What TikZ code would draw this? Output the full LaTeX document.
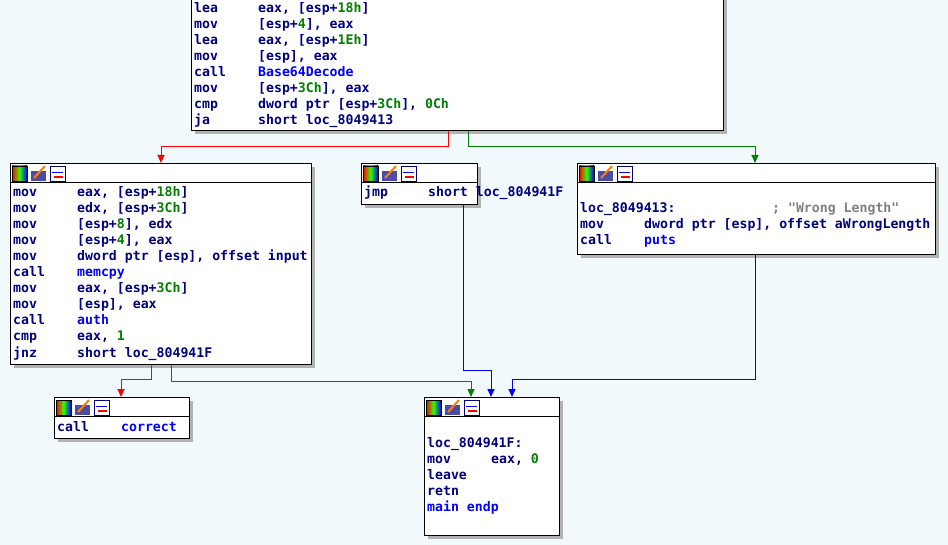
\documentclass[tikz,border=0pt]{standalone}
\usepackage{fontspec}
\setmonofont{DejaVu Sans Mono}
\usetikzlibrary{arrows.meta}
\definecolor{bg}{HTML}{F2F9FC}
\definecolor{navy}{HTML}{000080}
\definecolor{idb}{HTML}{0000FF}
\definecolor{numg}{HTML}{008000}
\definecolor{cmt}{HTML}{808080}
\newcommand\N[1]{\textcolor{numg}{#1}}
\newcommand\B[1]{\textcolor{idb}{#1}}
\tikzset{
 blk/.style={draw=black,fill=white,line width=0.8pt},
 shd/.style={fill=black!30},
 t/.style={anchor=base west,inner sep=0pt,yshift=-5pt,text=navy,font=\ttfamily\bfseries\fontsize{13.2}{15}\selectfont},
 e/.style={line width=1pt,-{Triangle[length=8pt,width=7pt]}},
}
\newcommand\icons[2]{%
 \shade[left color=red,right color=blue,middle color=green!80!yellow] (#1+2,#2+3) rectangle (#1+17,#2+18);
 \draw[black] (#1+2,#2+3) rectangle (#1+17,#2+18);
 \fill[navy!70] (#1+21,#2+8) rectangle (#1+36,#2+18);
 \draw[orange,line width=2pt] (#1+24,#2+15) -- (#1+35,#2+3);
 \fill[white] (#1+40,#2+3) rectangle (#1+55,#2+18);
 \draw[navy] (#1+40,#2+3) rectangle (#1+55,#2+18);
 \draw[red,line width=1.5pt] (#1+44,#2+14) -- (#1+53,#2+14);
 \draw[idb] (#1+42,#2+9) -- (#1+53,#2+9);
}
\begin{document}
\begin{tikzpicture}[x=1pt,y=-1pt]
\fill[bg] (0,0) rectangle (948,545);
\useasboundingbox (0,0) rectangle (948,545);
% shadows
\fill[shd] (195,-5) rectangle (727,134);
\fill[shd] (14,167) rectangle (315,368);
\fill[shd] (365,167) rectangle (481,208);
\fill[shd] (581,167) rectangle (939,258);
\fill[shd] (58,401) rectangle (193,442);
\fill[shd] (428,401) rectangle (563,539);
% blocks
\node[blk,minimum width=532,minimum height=136,anchor=north west,inner sep=0] (top) at (191,-6) {};
\node[blk,minimum width=301,minimum height=201,anchor=north west,inner sep=0] (L) at (10,163) {};
\node[blk,minimum width=116,minimum height=41,anchor=north west,inner sep=0] (M) at (361,163) {};
\node[blk,minimum width=358,minimum height=91,anchor=north west,inner sep=0] (R) at (577,163) {};
\node[blk,minimum width=135,minimum height=41,anchor=north west,inner sep=0] (C) at (54,397) {};
\node[blk,minimum width=135,minimum height=138,anchor=north west,inner sep=0] (E) at (424,397) {};
% headers
\foreach \x/\y/\w in {10/163/301,361/163/116,577/163/358,54/397/135,424/397/135}{
 \draw[black,line width=0.8pt] (\x,\y+19) -- (\x+\w,\y+19);
 \icons{\x}{\y}
}
% top text
\foreach \y/\m/\o in {8/lea/{eax, [esp+\N{18h}]},24/mov/{[esp+\N{4}], eax},40/lea/{eax, [esp+\N{1Eh}]},56/mov/{[esp], eax},72/call/{\B{Base64Decode}},88/mov/{[esp+\N{3Ch}], eax},104/cmp/{dword ptr [esp+\N{3Ch}], \N{0Ch}},120/ja/{short loc\_8049413}}{
 \node[t] at (194,\y) {\m}; \node[t] at (258,\y) {\o};}
% left text
\foreach \y/\m/\o in {192/mov/{eax, [esp+\N{18h}]},208/mov/{edx, [esp+\N{3Ch}]},224/mov/{[esp+\N{8}], edx},240/mov/{[esp+\N{4}], eax},256/mov/{dword ptr [esp], offset input},272/call/{\B{memcpy}},288/mov/{eax, [esp+\N{3Ch}]},304/mov/{[esp], eax},320/call/{\B{auth}},336/cmp/{eax, \N{1}},352/jnz/{short loc\_804941F}}{
 \node[t] at (13,\y) {\m}; \node[t] at (77,\y) {\o};}
\node[t] at (364,192) {jmp}; \node[t] at (428,192) {short loc\_804941F};
\node[t] at (580,208) {loc\_8049413:}; \node[t] at (772,208) {\textcolor{cmt}{; "Wrong Length"}};
\node[t] at (580,224) {mov}; \node[t] at (644,224) {dword ptr [esp], offset aWrongLength};
\node[t] at (580,240) {call}; \node[t] at (644,240) {\B{puts}};
\node[t] at (57,426) {call}; \node[t] at (121,426) {\B{correct}};
\node[t] at (427,442) {loc\_804941F:};
\node[t] at (427,458) {mov}; \node[t] at (491,458) {eax, \N{0}};
\node[t] at (427,474) {leave};
\node[t] at (427,490) {retn};
\node[t] at (427,506) {\B{main endp}};
% edges
\draw[e,red] (top.south -| 448,0) |- (161,147) -- (L.north -| 161,0);
\draw[e,numg] (top.south -| 468,0) |- (755,147) -- (R.north -| 755,0);
\draw[e,red] (L.south -| 151,0) |- (121,379) -- (C.north -| 121,0);
\draw[e,numg] (L.south -| 171,0) |- (471,381) -- (E.north -| 471,0);
\draw[e,idb] (M.south -| 463,0) |- (491,370) -- (E.north -| 491,0);
\draw[e,idb] (R.south -| 755,0) |- (512,379) -- (E.north -| 512,0);
\end{tikzpicture}
\end{document}
